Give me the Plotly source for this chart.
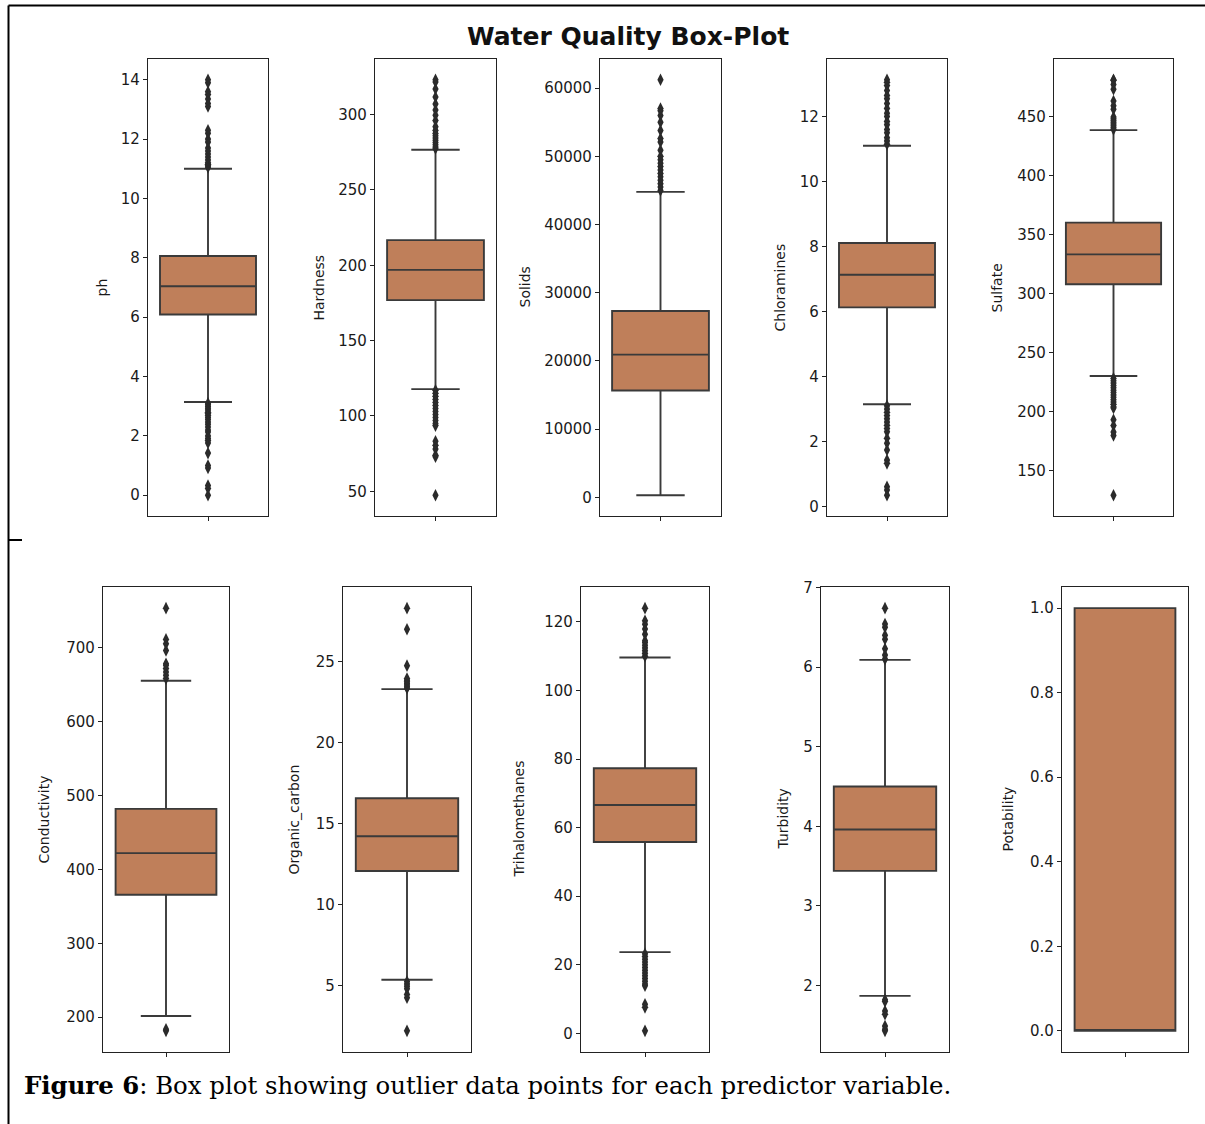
import plotly.graph_objects as go

# ---- data -------------------------------------------------------------
variables = ["ph", "Hardness", "Solids", "Chloramines", "Sulfate",
             "Conductivity", "Organic_carbon", "Trihalomethanes", "Turbidity", "Potability"]

q1 = [6.09, 176.85, 15667, 6.13, 307.7, 365.7, 12.07, 55.8, 3.44, 0.0]
median = [7.04, 196.97, 20928, 7.13, 333.1, 421.9, 14.22, 66.6, 3.96, 0.0]
q3 = [8.06, 216.67, 27333, 8.11, 360.0, 481.8, 16.56, 77.3, 4.50, 1.0]
lower_whisker = [3.14, 117.8, 321, 3.15, 230.0, 201.6, 5.36, 23.7, 1.87, 0.0]
upper_whisker = [11.0, 276.7, 44800, 11.1, 438.3, 655.0, 23.3, 109.6, 6.09, 1.0]

outliers = {
    "ph": [11.05, 11.1, 11.15, 11.2, 11.3, 11.4, 11.5, 11.6, 11.7, 11.9, 12.0, 12.2, 12.3,
           13.1, 13.2, 13.35, 13.5, 13.6, 13.9, 14.0,
           3.1, 3.05, 2.99, 2.93, 2.87, 2.8, 2.75, 2.69, 2.62, 2.55, 2.47, 2.39, 2.3,
           2.2, 2.13, 2.0, 1.91, 1.84, 1.76, 1.42, 1.0, 0.92, 0.33, 0.23, 0.0],
    "Hardness": [277.5, 278.5, 280, 281.5, 283, 284.5, 286, 287.5, 289.5, 292, 296, 299.6,
                 303, 307, 311.7, 317, 321.6, 323.1,
                 117, 115, 113, 111, 109, 107, 105, 103, 101, 99, 97, 95, 93.6,
                 83.2, 80.5, 78, 74, 73, 47.4],
    "Solids": [45000, 45500, 46000, 46500, 47000, 47500, 48000, 48500, 49000, 49500, 50000,
               50900, 52100, 52600, 53800, 55000, 56000, 56700, 57000, 61227],
    "Chloramines": [11.15, 11.25, 11.35, 11.5, 11.6, 11.75, 11.85, 12.0, 12.1, 12.25, 12.4,
                    12.55, 12.65, 12.8, 12.95, 13.05, 13.13,
                    3.1, 3.0, 2.9, 2.8, 2.7, 2.6, 2.5, 2.4, 2.3, 2.1, 1.95, 1.74, 1.43, 1.33,
                    0.61, 0.51, 0.35],
    "Sulfate": [439, 440.5, 442, 443.5, 445, 446.5, 448, 449.5, 456, 459, 463, 473, 477,
                480.5, 481,
                228, 226, 224, 222, 220, 218, 216, 214, 212, 210, 208, 206, 204, 203,
                193, 188, 182.5, 179.6, 129.0],
    "Conductivity": [658, 662.5, 667, 671.5, 676, 678, 696, 705, 711, 753.3, 181.5, 183.7],
    "Organic_carbon": [23.35, 23.45, 23.55, 23.65, 23.75, 23.85, 23.95, 24.75, 27.0, 28.3,
                       5.25, 5.1, 4.95, 4.8, 4.45, 4.24, 2.2],
    "Trihalomethanes": [110, 110.8, 111.6, 112.4, 113.2, 114, 114.5, 116.4, 117.9, 119.3,
                        120.3, 124.0,
                        23.2, 22.4, 21.6, 20.8, 20.0, 19.2, 18.4, 17.6, 16.8, 16.0, 15.2,
                        14.4, 13.9, 8.5, 7.6, 0.74],
    "Turbidity": [6.1, 6.15, 6.23, 6.35, 6.4, 6.5, 6.54, 6.74,
                  1.82, 1.8, 1.68, 1.64, 1.49, 1.45, 1.43],
    "Potability": [],
}

tick_values = [
    [0, 2, 4, 6, 8, 10, 12, 14],
    [50, 100, 150, 200, 250, 300],
    [0, 10000, 20000, 30000, 40000, 50000, 60000],
    [0, 2, 4, 6, 8, 10, 12],
    [150, 200, 250, 300, 350, 400, 450],
    [200, 300, 400, 500, 600, 700],
    [5, 10, 15, 20, 25],
    [0, 20, 40, 60, 80, 100, 120],
    [2, 3, 4, 5, 6, 7],
    [0.0, 0.2, 0.4, 0.6, 0.8, 1.0],
]
tick_labels = [
    ["0", "2", "4", "6", "8", "10", "12", "14"],
    ["50", "100", "150", "200", "250", "300"],
    ["0", "10000", "20000", "30000", "40000", "50000", "60000"],
    ["0", "2", "4", "6", "8", "10", "12"],
    ["150", "200", "250", "300", "350", "400", "450"],
    ["200", "300", "400", "500", "600", "700"],
    ["5", "10", "15", "20", "25"],
    ["0", "20", "40", "60", "80", "100", "120"],
    ["2", "3", "4", "5", "6", "7"],
    ["0.0", "0.2", "0.4", "0.6", "0.8", "1.0"],
]

title_text = "Water Quality Box-Plot"
caption_bold = "Figure 6"
caption_rest = ": Box plot showing outlier data points for each predictor variable."

# ---- layout geometry (pixels) ----------------------------------------
W, H = 1205, 1124
panel_x = [(148, 268), (375, 496), (600, 721), (827, 947), (1054, 1173),
           (103, 229), (343, 471), (581, 709), (821, 949), (1062, 1188)]
row_y = [(59, 516), (587, 1052)]
label_x = [101, 318, 524, 779, 996, 43, 293, 518, 782, 1007]

BOX_FILL = "#bf7f5a"
EDGE = "#3a3a3a"
FONT = "DejaVu Sans"


def fx(x):
    return x / W


def fy(y):
    return 1 - y / H


fig = go.Figure()
layout = {}
annotations = []

for i, name in enumerate(variables):
    n = i + 1
    xa = "x" if n == 1 else f"x{n}"
    ya = "y" if n == 1 else f"y{n}"
    x0, x1 = panel_x[i]
    y0, y1 = row_y[i // 5]

    fig.add_trace(go.Box(
        x=[0], q1=[q1[i]], median=[median[i]], q3=[q3[i]],
        lowerfence=[lower_whisker[i]], upperfence=[upper_whisker[i]],
        width=0.8, whiskerwidth=0.5, fillcolor=BOX_FILL,
        line=dict(color=EDGE, width=1.9), boxpoints=False,
        xaxis=xa, yaxis=ya, showlegend=False, hoverinfo="skip",
    ))
    pts = outliers[name]
    if pts:
        fig.add_trace(go.Scatter(
            x=[0] * len(pts), y=pts, mode="markers",
            marker=dict(symbol="diamond-tall", size=9, color="#2b2b2b",
                        line=dict(width=0)),
            xaxis=xa, yaxis=ya, showlegend=False, hoverinfo="skip",
        ))

    # matplotlib-style 5% padding around the full data extent
    all_vals = [lower_whisker[i], upper_whisker[i]] + pts
    lo, hi = min(all_vals), max(all_vals)
    pad = (hi - lo) * 0.05

    key_x = "xaxis" if n == 1 else f"xaxis{n}"
    key_y = "yaxis" if n == 1 else f"yaxis{n}"
    layout[key_x] = dict(
        domain=[fx(x0), fx(x1)], range=[-0.5, 0.5], anchor=ya,
        tickvals=[0], ticktext=[""], ticks="outside", ticklen=4,
        tickcolor="#222", showgrid=False, zeroline=False, automargin=False,
        showline=True, mirror=True, linecolor="#222", linewidth=1.2,
        fixedrange=True,
    )
    layout[key_y] = dict(
        domain=[fy(y1), fy(y0)], range=[lo - pad, hi + pad], anchor=xa,
        tickvals=tick_values[i], ticktext=tick_labels[i],
        ticks="outside", ticklen=4, tickcolor="#222",
        tickfont=dict(family=FONT, size=15, color="#1a1a1a"),
        showgrid=False, zeroline=False, automargin=False,
        showline=True, mirror=True, linecolor="#222", linewidth=1.2,
        fixedrange=True,
    )
    annotations.append(dict(
        text=name, x=fx(label_x[i]), y=fy((y0 + y1) / 2),
        xref="paper", yref="paper", xanchor="center", yanchor="middle",
        textangle=-90, showarrow=False,
        font=dict(family=FONT, size=14, color="#1a1a1a"),
    ))

annotations.append(dict(
    text=f"<b>{title_text}</b>", x=fx(628), y=fy(36),
    xref="paper", yref="paper", xanchor="center", yanchor="middle",
    showarrow=False, font=dict(family=FONT, size=25, color="#111"),
))
annotations.append(dict(
    text=f"<b>{caption_bold}</b>{caption_rest}", x=fx(22), y=fy(1085),
    xref="paper", yref="paper", xanchor="left", yanchor="middle",
    showarrow=False, font=dict(family="DejaVu Serif", size=24.4, color="#000"),
))

# page frame lines around the figure
shapes = [
    dict(type="line", xref="paper", yref="paper", x0=fx(8.5), x1=1, y0=fy(5.5), y1=fy(5.5),
         line=dict(color="#000", width=2)),
    dict(type="line", xref="paper", yref="paper", x0=fx(8.5), x1=fx(8.5), y0=fy(5.5), y1=0,
         line=dict(color="#000", width=2)),
    dict(type="line", xref="paper", yref="paper", x0=fx(8.5), x1=fx(22), y0=fy(540), y1=fy(540),
         line=dict(color="#000", width=2)),
]

fig.update_layout(
    template="none",
    width=W, height=H, margin=dict(l=0, r=0, t=0, b=0, pad=0, autoexpand=False),
    paper_bgcolor="white", plot_bgcolor="white",
    annotations=annotations, shapes=shapes, showlegend=False,
    **layout,
)

fig.write_html("out.html")
